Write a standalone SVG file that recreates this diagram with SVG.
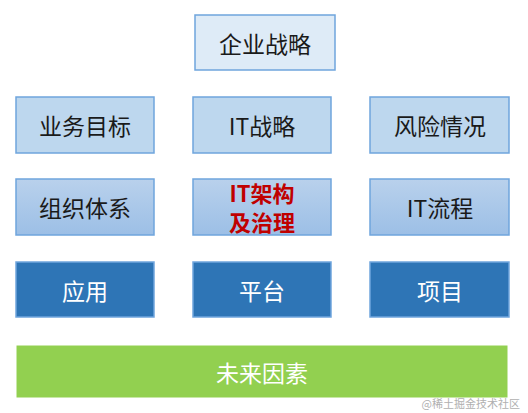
<svg xmlns="http://www.w3.org/2000/svg" width="528" height="413" viewBox="0 0 528 413">
<defs>
<linearGradient id="g3" x1="0" y1="0" x2="0" y2="1">
<stop offset="0" stop-color="#B9D1EC"/>
<stop offset="1" stop-color="#9CBFE6"/>
</linearGradient>
<style>
.t{font-family:"Noto Sans CJK SC","Noto Sans",sans-serif;font-size:23px;text-anchor:middle;dominant-baseline:central}
.dk{fill:#1a1a1a}
.wh{fill:#ffffff}
.top{fill:#DEEBF7;stroke:#6FA5DD;stroke-width:1.5}
.r2{fill:#BDD7EE;stroke:#6FA5DD;stroke-width:1.5}
.r3{fill:url(#g3);stroke:#6FA5DD;stroke-width:1.5}
.r4{fill:#2E75B6;stroke:#6FA5DD;stroke-width:1.5}
.gr{fill:#92D050;stroke:#ffffff;stroke-width:1}
.red{fill:#C00000;font-weight:bold;font-size:22px}
</style>
</defs>
<rect width="528" height="413" fill="#ffffff"/>
<g id="n-top"><rect class="top" x="195" y="15" width="140" height="55"/><text class="t dk" x="265" y="43">企业战略</text></g>
<g id="n-yewu"><rect class="r2" x="16" y="97" width="138" height="56"/><text class="t dk" x="85" y="125">业务目标</text></g>
<g id="n-itzl"><rect class="r2" x="193" y="97" width="138" height="56"/><text class="t dk" x="262" y="125">IT战略</text></g>
<g id="n-fx"><rect class="r2" x="370" y="97" width="139" height="56"/><text class="t dk" x="440" y="125">风险情况</text></g>
<g id="n-zz"><rect class="r3" x="16" y="179" width="138" height="56"/><text class="t dk" x="85" y="207">组织体系</text></g>
<g id="n-jg"><rect class="r3" x="193" y="179" width="138" height="56"/><text class="t red" x="262" y="192"><tspan x="262" y="192">IT架构</tspan><tspan x="262" y="221">及治理</tspan></text></g>
<g id="n-lc"><rect class="r3" x="370" y="179" width="139" height="56"/><text class="t dk" x="440" y="207">IT流程</text></g>
<g id="n-yy"><rect class="r4" x="16" y="262" width="138" height="55"/><text class="t wh" x="85" y="290">应用</text></g>
<g id="n-pt"><rect class="r4" x="193" y="262" width="138" height="55"/><text class="t wh" x="262" y="290">平台</text></g>
<g id="n-xm"><rect class="r4" x="370" y="262" width="139" height="55"/><text class="t wh" x="440" y="290">项目</text></g>
<g id="n-wl"><rect class="gr" x="16" y="345" width="492" height="53"/><text class="t wh" x="262" y="372">未来因素</text></g>
<g id="connectors"></g>
<text x="520" y="408" style="font-family:'Noto Sans CJK SC',serif;font-size:11px;fill:#b0b0b0;text-anchor:end">@稀土掘金技术社区</text>
</svg>
